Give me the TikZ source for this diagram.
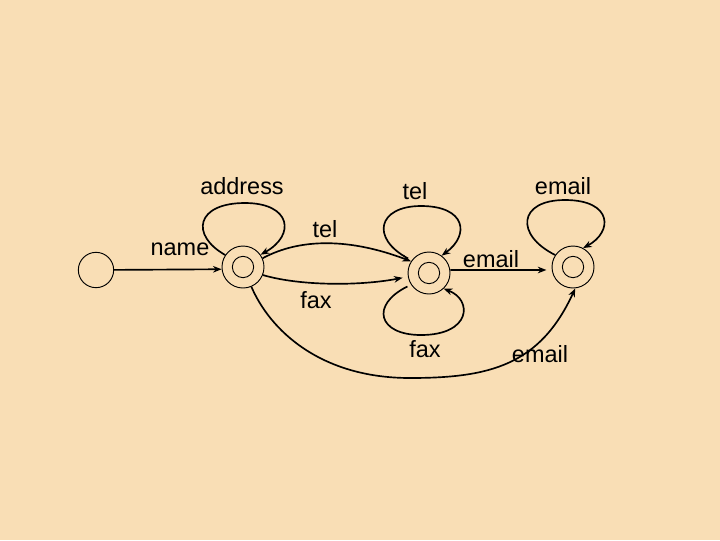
\documentclass[tikz,border=0pt]{standalone}
\usepackage{fontspec}
\setmainfont{Liberation Sans}
\usetikzlibrary{arrows.meta}
\definecolor{bg}{HTML}{F9DEB5}
\begin{document}
\begin{tikzpicture}[x=0.75pt,y=-0.75pt,
  statebox/.style={circle,draw,line width=0.7pt,minimum size=31.5pt,inner sep=0pt},
  innerbox/.style={circle,draw,line width=0.7pt,minimum size=16pt,inner sep=0pt},
  startbox/.style={circle,draw,line width=0.7pt,minimum size=26.5pt,inner sep=0pt},
  edge/.style={line width=1.25pt,-{Stealth[length=6.5pt,width=5pt]}},
  lbl/.style={inner sep=0pt,font=\fontsize{17.6}{20}\selectfont}]
\fill[bg] (0,0) rectangle (720,540);
\useasboundingbox (0,0) rectangle (720,540);
\node[startbox] (st) at (96,270) {};
\node[statebox] (s1) at (243,267) {};
\node[innerbox] (s1i) at (243,267) {};
\node[statebox] (s2) at (429,273) {};
\node[innerbox] (s2i) at (429,273) {};
\node[statebox] (s3) at (573,267) {};
\node[innerbox] (s3i) at (573,267) {};
% labels
\node[lbl] (lname) at (180,249) {name};
\node[lbl] (laddr) at (242,186) {address};
\node[lbl] (ltel1) at (325,229) {tel};
\node[lbl] (ltel2) at (415,191) {tel};
\node[lbl] (lem1) at (563,186) {email};
\node[lbl] (lem2) at (491,259) {email};
\node[lbl] (lfax1) at (316,300) {fax};
\node[lbl] (lfax2) at (425,349) {fax};
\node[lbl] (lem3) at (540,354) {email};
% edges
\draw[edge] (st) -- (s1.186);
\draw[edge] (s1.146) .. controls (190,235) and (196,203) .. (245,203)
  .. controls (291,203) and (296,235) .. (s1.35);
\draw[edge] (s1.24) .. controls (300,238) and (350,238) .. (s2.147);
\draw[edge,shorten >=4pt] (s1.-22) .. controls (300,286) and (360,286) .. (s2.190);
\draw[edge,shorten <=3pt] (s2.144) .. controls (370,238) and (378,206) .. (421,206)
  .. controls (466,206) and (470,235) .. (s2.54);
\draw[edge,shorten <=3pt] (s2.213) .. controls (370,305) and (378,335) .. (421,335)
  .. controls (471,335) and (473,300) .. (s2.313);
\draw[edge,shorten >=4pt] (s2.8) -- (s3.188);
\draw[edge] (s3.146) .. controls (515,235) and (518,200) .. (565,200)
  .. controls (613,200) and (613,232) .. (s3.62);
\draw[edge] (s1.293) .. controls (270,330) and (320,378) .. (410,378)
  .. controls (490,378) and (540,365) .. (s3.276);
\end{tikzpicture}
\end{document}
